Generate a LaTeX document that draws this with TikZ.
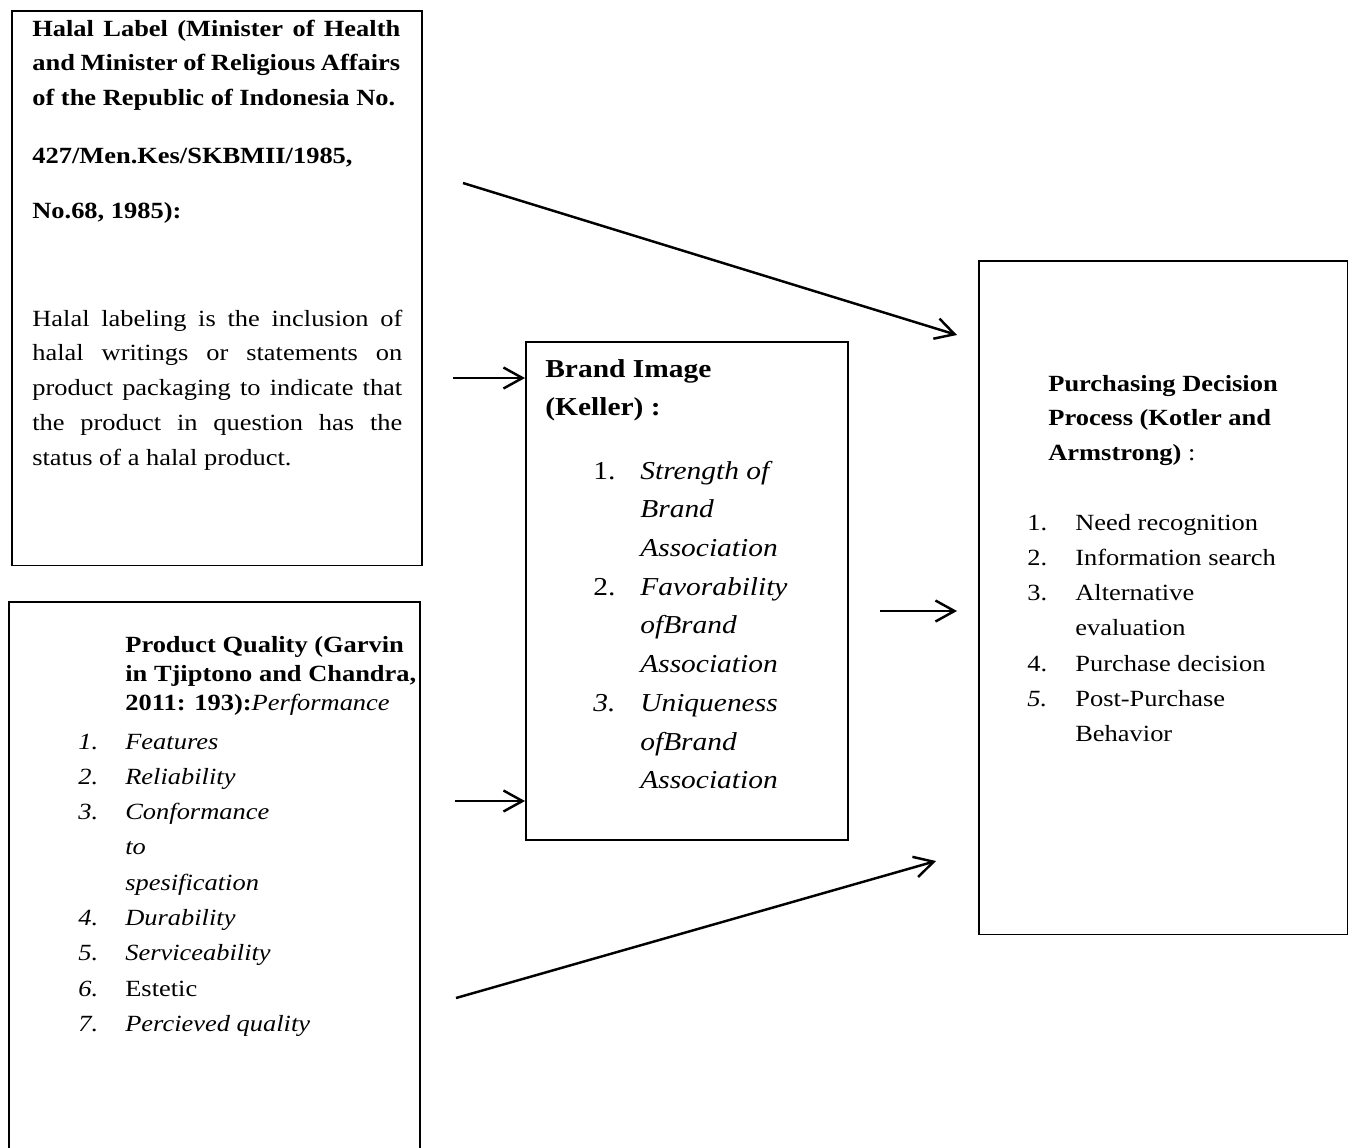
\documentclass[tikz,border=0pt]{standalone}
\usepackage{fontspec}
\setmainfont{Liberation Serif}[FakeStretch=1.14]
\usetikzlibrary{arrows.meta}

% Font sizes (one picture unit is one pixel of the page)
\newcommand{\normsize}{\fontsize{13.2}{19.9}\selectfont}
\newcommand{\headsize}{\fontsize{13.2}{16.7}\selectfont}
\newcommand{\listsize}{\fontsize{13.2}{20.1}\selectfont}
\newcommand{\bigsize}{\fontsize{14.7}{22.05}\selectfont}

\tikzset{
  box/.style={draw, line width=0.9pt, anchor=north west, inner sep=0pt},
  txt/.style={anchor=base west, inner sep=0pt},
  flow/.style={line width=1.4pt, -{Straight Barb[length=0.38cm, width=0.42cm]}}
}

\begin{document}
\begin{tikzpicture}[x=0.02cm, y=-0.02cm]

  % Fix the size of the page
  \useasboundingbox (0,0) rectangle (1348,1147);

  % Draw the four boxes
  \node[box, minimum width=8.2cm, minimum height=11.1cm] (halal) at (11,10) {};
  \node[box, minimum width=8.22cm, minimum height=11.3cm] (quality) at (8,601) {};
  \node[box, minimum width=6.44cm, minimum height=9.96cm] (brand) at (525,341) {};
  \node[box, minimum width=7.38cm, minimum height=13.48cm] (decision) at (978,260) {};

  % Halal label box
  \node[txt, font=\normsize\bfseries] (halalhead) at (32,36) {\parbox[t]{7.36cm}{%
    Halal Label (Minister of Health\linebreak
    and Minister of Religious Affairs\linebreak
    of the Republic of Indonesia No.\par\vspace{12.9pt}
    427/Men.Kes/SKBMII/1985,\par\vspace{11.2pt}
    No.68, 1985):}};
  \node[txt, font=\normsize] (halalbody) at (32,326) {\parbox[t]{7.4cm}{%
    Halal labeling is the inclusion of\linebreak
    halal writings or statements on\linebreak
    product packaging to indicate that\linebreak
    the product in question has the\linebreak
    status of a halal product.}};

  % Product quality box
  \node[txt, font=\headsize\bfseries] (qualityhead) at (125,652) {%
    \begin{tabular}[t]{@{}l@{}}
      Product Quality (Garvin\\
      in Tjiptono and Chandra,\\
      2011: 193):{\mdseries\itshape Performance}
    \end{tabular}};
  \node[txt, font=\listsize\itshape] (qualitylist) at (78,749) {%
    \begin{tabular}[t]{@{}p{0.94cm}@{}l@{}}
      1. & Features\\
      2. & Reliability\\
      3. & Conformance\\
         & to\\
         & spesification\\
      4. & Durability\\
      5. & Serviceability\\
      6. & \upshape Estetic\\
      7. & Percieved quality
    \end{tabular}};

  % Brand image box
  \node[txt, font=\bigsize\bfseries] (brandhead) at (545,377) {%
    \begin{tabular}[t]{@{}l@{}}
      Brand Image\\
      (Keller) :
    \end{tabular}};
  \node[txt, font=\bigsize] (brandlist) at (593,479) {%
    \begin{tabular}[t]{@{}p{0.94cm}@{}l@{}}
      1. & \textit{Strength of}\\
         & \textit{Brand}\\
         & \textit{Association}\\
      2. & \textit{Favorability}\\
         & \textit{ofBrand}\\
         & \textit{Association}\\
      \textit{3.} & \textit{Uniqueness}\\
         & \textit{ofBrand}\\
         & \textit{Association}
    \end{tabular}};

  % Purchasing decision box
  \node[txt, font=\normsize\bfseries] (decisionhead) at (1048,391) {%
    \begin{tabular}[t]{@{}l@{}}
      Purchasing Decision\\
      Process (Kotler and\\
      Armstrong)\mdseries\ :
    \end{tabular}};
  \node[txt, font=\listsize] (decisionlist) at (1027,530) {%
    \begin{tabular}[t]{@{}p{0.96cm}@{}l@{}}
      1. & Need recognition\\
      2. & Information search\\
      3. & Alternative\\
         & evaluation\\
      4. & Purchase decision\\
      \textit{5.} & Post-Purchase\\
         & Behavior
    \end{tabular}};

  % Arrows
  \coordinate (h1) at (463,183);
  \coordinate (h2) at (957,335);
  \draw[flow] (h1) -- (h2);

  \coordinate (h3) at (453,378);
  \draw[flow] (h3) -- (h3 -| brand.west);

  \coordinate (q1) at (455,801);
  \draw[flow] (q1) -- (q1 -| brand.west);

  \coordinate (b1) at (880,611);
  \coordinate (b2) at (957,611);
  \draw[flow] (b1) -- (b2);

  \coordinate (q2) at (456,998);
  \coordinate (q3) at (936,861);
  \draw[flow] (q2) -- (q3);

\end{tikzpicture}
\end{document}
